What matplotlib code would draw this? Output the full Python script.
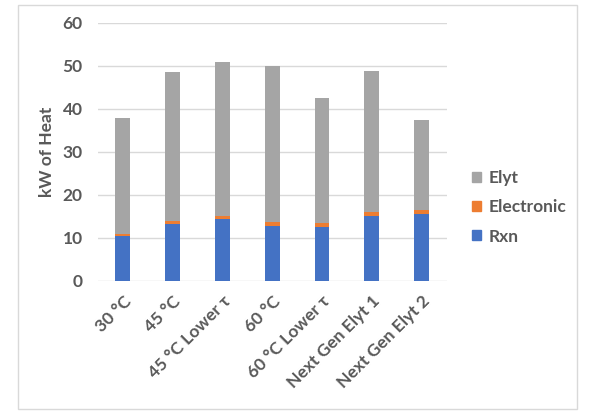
import numpy as np
import matplotlib
matplotlib.use("Agg")
import matplotlib.pyplot as plt
from matplotlib.patches import Rectangle, Patch

categories = ["30 °C", "45 °C", "45 °C Lower τ", "60 °C", "60 °C Lower τ",
              "Next Gen Elyt 1", "Next Gen Elyt 2"]
rxn = [10.5, 13.1, 14.3, 12.7, 12.6, 15.1, 15.6]
electronic = [0.4, 0.8, 0.7, 1.0, 0.9, 0.9, 0.8]
elyt = [27.0, 34.7, 36.0, 36.3, 28.9, 32.8, 21.0]

BLUE, ORANGE, GRAY = "#4472C4", "#ED7D31", "#A5A5A5"
TEXT = "#595959"

plt.rcParams.update({
    "font.family": ["Lato", "DejaVu Sans"],
    "font.weight": "bold",
})

fig = plt.figure(figsize=(5.93, 4.15), dpi=100)
ax = fig.add_axes([0.165, 0.3236, 0.588, 0.6214])

x = np.arange(len(categories))
w = 0.30
rxn_a = np.array(rxn)
el_a = np.array(electronic)
ax.bar(x, rxn_a, w, color=BLUE, zorder=3)
ax.bar(x, el_a, w, bottom=rxn_a, color=ORANGE, zorder=3)
ax.bar(x, elyt, w, bottom=rxn_a + el_a, color=GRAY, zorder=3)

ax.set_xlim(-0.5, len(categories) - 0.5)
ax.set_ylim(0, 60)
ax.set_yticks(range(0, 61, 10))
ax.yaxis.grid(True, color="#D9D9D9", linewidth=1.0, zorder=0)
for s in ["top", "right", "left", "bottom"]:
    ax.spines[s].set_visible(False)
ax.tick_params(axis="both", length=0, colors=TEXT)
ax.tick_params(axis="y", pad=11, labelsize=12.5)
ax.tick_params(axis="x", pad=9, labelsize=12.5)
ax.set_xticks(x)
ax.set_xticklabels(categories, rotation=45, ha="right", rotation_mode="anchor",
                   fontweight="bold")
ax.set_ylabel("kW of Heat", color=TEXT, fontsize=12.5, fontweight="bold",
              labelpad=5)

handles = [Patch(color=GRAY, label="Elyt"),
           Patch(color=ORANGE, label="Electronic"),
           Patch(color=BLUE, label="Rxn")]
fig.legend(handles=handles, loc="center left", bbox_to_anchor=(0.77, 0.50),
           frameon=False, fontsize=12.5, labelcolor=TEXT, handlelength=0.5,
           handleheight=0.5, handletextpad=0.45, labelspacing=0.75)

# chart-area border
fig.patches.append(Rectangle((18 / 593, 1 - 409 / 415), (577 - 18) / 593,
                             (409 - 5) / 415, transform=fig.transFigure,
                             fill=False, edgecolor="#D9D9D9", linewidth=1.0))

fig.savefig("out.png", dpi=100)
